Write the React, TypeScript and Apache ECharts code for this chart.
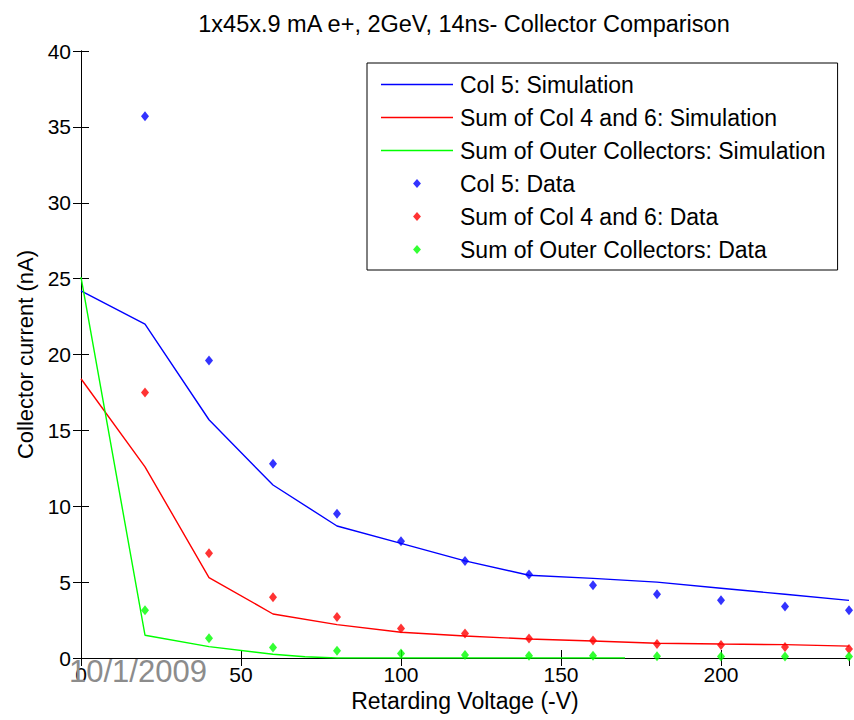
import React, { useEffect, useRef } from "react";
import * as echarts from "echarts";

// Retarding voltage (-V) at which the collectors were measured
const dataVoltage = [20, 40, 60, 80, 100, 120, 140, 160, 180, 200, 220, 240];
// Measured collector currents (nA)
const col5Data = [35.7, 19.6, 12.8, 9.5, 7.7, 6.4, 5.5, 4.8, 4.2, 3.8, 3.4, 3.15];
const col46Data = [17.5, 6.9, 4.0, 2.7, 1.95, 1.62, 1.28, 1.16, 0.92, 0.86, 0.72, 0.6];
const outerData = [3.15, 1.3, 0.7, 0.48, 0.3, 0.2, 0.15, 0.15, 0.12, 0.1, 0.1, 0.1];

// Simulated collector currents (nA)
const simVoltage = [0, 20, 40, 60, 80, 100, 120, 140, 160, 180, 200, 220, 240];
const col5Sim = [24.2, 22.0, 15.7, 11.4, 8.7, 7.55, 6.4, 5.45, 5.25, 5.0, 4.6, 4.2, 3.8];
const col46Sim = [18.4, 12.6, 5.3, 2.9, 2.2, 1.7, 1.45, 1.25, 1.12, 0.97, 0.92, 0.88, 0.78];
const outerSimVoltage = [0, 20, 40, 60, 70, 80, 170];
const outerSim = [25.1, 1.5, 0.75, 0.25, 0.08, 0, 0];

const seriesNames = [
  "Col 5: Simulation",
  "Sum of Col 4 and 6: Simulation",
  "Sum of Outer Collectors: Simulation",
  "Col 5: Data",
  "Sum of Col 4 and 6: Data",
  "Sum of Outer Collectors: Data",
];
const colors = ["#0000ff", "#ff0000", "#00ff00"];

const FONT = "Liberation Sans, Arial, sans-serif";

const zip = (xs: number[], ys: number[]) => xs.map((x, i) => [x, ys[i]]);

export default function App() {
  const ref = useRef<HTMLDivElement>(null);

  useEffect(() => {
    document.body.style.margin = "0";
    if (!ref.current) return;
    const chart = echarts.init(ref.current, null, { renderer: "svg" });

    const lineSeries = (name: string, color: string, data: number[][]) => ({
      name,
      type: "line",
      data,
      symbol: "none",
      lineStyle: { color, width: 1.4 },
      itemStyle: { color },
      z: 3,
    });
    const scatterSeries = (name: string, color: string, data: number[][]) => ({
      name,
      type: "scatter",
      data,
      symbol: "diamond",
      symbolSize: [8, 10],
      itemStyle: { color },
      z: 4,
    });

    const axisLine = { show: true, lineStyle: { color: "#000", width: 1 } };
    const axisTick = { show: true, inside: true, length: 8, lineStyle: { color: "#000", width: 1 } };

    // legend glyphs: a thin bar for simulated curves, a small diamond for measurements
    const lineIcon = "path://M0,0H72V1.5H0Z";
    const diamondIcon = "path://M0,5L4.4,0L8.8,5L4.4,10Z";

    chart.setOption({
      animation: false,
      backgroundColor: "#fff",
      textStyle: { fontFamily: FONT },
      title: {
        text: "1x45x.9 mA e+, 2GeV, 14ns- Collector Comparison",
        left: 459,
        top: 7,
        textAlign: "center",
        textStyle: { fontSize: 23.5, fontWeight: "normal", color: "#000", fontFamily: FONT },
      },
      grid: { left: 81, right: 5, top: 51, bottom: 62, show: false },
      legend: {
        orient: "vertical",
        left: 367,
        top: 63,
        padding: [10, 12, 9, 14],
        itemGap: 10,
        itemWidth: 72,
        itemHeight: 9,
        borderColor: "#000",
        borderWidth: 1,
        backgroundColor: "#fff",
        selectedMode: false,
        itemStyle: { borderWidth: 0 },
        textStyle: { fontSize: 23, color: "#000", fontFamily: FONT, padding: [0, 0, 0, 2] },
        data: seriesNames.map((name, i) => ({ name, icon: i < 3 ? lineIcon : diamondIcon })),
      },
      xAxis: [
        {
          type: "value",
          min: 0,
          max: 240,
          interval: 50,
          position: "bottom",
          axisLine,
          axisTick,
          splitLine: { show: false },
          axisLabel: { fontSize: 21, color: "#000", margin: 6, fontFamily: FONT, showMaxLabel: false },
          name: "Retarding Voltage (-V)",
          nameLocation: "middle",
          nameGap: 30,
          nameTextStyle: { fontSize: 23, color: "#000", fontFamily: FONT },
        },
        {
          type: "value",
          min: 0,
          max: 240,
          interval: 50,
          position: "top",
          axisLine,
          axisTick,
          splitLine: { show: false },
          axisLabel: { show: false },
        },
      ],
      yAxis: [
        {
          type: "value",
          min: 0,
          max: 40,
          interval: 5,
          position: "left",
          axisLine,
          axisTick,
          splitLine: { show: false },
          axisLabel: { fontSize: 21, color: "#000", margin: 10, fontFamily: FONT },
          name: "Collector current (nA)",
          nameLocation: "middle",
          nameGap: 44,
          nameTextStyle: { fontSize: 22, color: "#000", fontFamily: FONT },
        },
        {
          type: "value",
          min: 0,
          max: 40,
          interval: 5,
          position: "right",
          axisLine,
          axisTick,
          splitLine: { show: false },
          axisLabel: { show: false },
        },
      ],
      graphic: [
        {
          type: "text",
          left: 69,
          top: 656,
          z: 100,
          style: { text: "10/1/2009", fontSize: 31, fill: "#8c8c8c", fontFamily: FONT },
        },
      ],
      series: [
        lineSeries(seriesNames[0], colors[0], zip(simVoltage, col5Sim)),
        lineSeries(seriesNames[1], colors[1], zip(simVoltage, col46Sim)),
        lineSeries(seriesNames[2], colors[2], zip(outerSimVoltage, outerSim)),
        scatterSeries(seriesNames[3], colors[0], zip(dataVoltage, col5Data)),
        scatterSeries(seriesNames[4], colors[1], zip(dataVoltage, col46Data)),
        scatterSeries(seriesNames[5], colors[2], zip(dataVoltage, outerData)),
      ],
    });

    return () => chart.dispose();
  }, []);

  return <div ref={ref} style={{ width: 854, height: 720 }} />;
}
